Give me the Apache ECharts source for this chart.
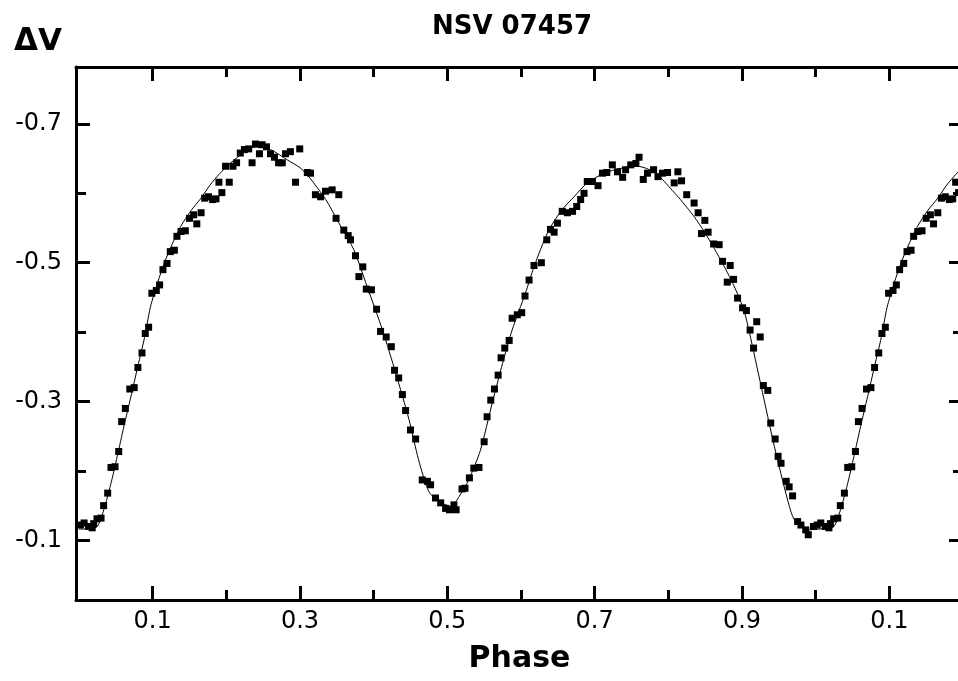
<!DOCTYPE html>
<html><head><meta charset="utf-8">
<script src="https://cdn.jsdelivr.net/npm/echarts/dist/echarts.min.js"></script>
<style>html,body{margin:0;padding:0;background:#fff}#c{width:958px;height:681px}</style>
</head><body><div id="c"></div>
<script>
// ---- observed points (phase, delta V) ----
const obsPhase = [
0.002,0.007,0.013,0.018,0.020,0.0245,0.030,0.0335,0.039,0.0435,
0.049,0.054,0.058,0.063,0.069,0.075,0.080,0.0856,0.090,0.0946,
0.099,0.105,0.1095,0.114,0.1196,0.124,0.1295,0.133,0.1386,0.1444,
0.150,0.1557,0.160,0.1658,0.1707,0.176,0.1815,0.186,0.190,0.194,
0.199,0.204,0.209,0.214,0.219,0.2246,0.2304,0.235,0.2396,0.245,
0.2486,0.2545,0.260,0.2654,0.271,0.276,0.2803,0.287,0.294,0.2997,
0.310,0.3143,0.321,0.328,0.3347,0.3437,0.3527,0.349,0.3595,0.3655,
0.3686,0.3754,0.380,0.3853,0.390,0.397,0.404,0.4094,0.417,0.424,
0.4284,0.434,0.439,0.4434,0.450,0.457,0.466,0.473,0.4773,0.484,
0.491,0.4977,0.503,0.509,0.512,0.520,0.524,0.530,0.536,0.543,
0.550,0.554,0.559,0.564,0.569,0.573,0.578,0.584,0.588,0.595,
0.601,0.6055,0.611,0.6177,0.6277,0.635,0.640,0.645,0.6495,0.656,
0.663,0.670,0.6757,0.681,0.6856,0.690,0.697,0.7046,0.7106,0.7165,
0.724,0.731,0.738,0.742,0.749,0.756,0.7603,0.766,0.7717,0.780,
0.786,0.792,0.799,0.808,0.813,0.818,0.825,0.835,0.8405,0.845,
0.8496,0.854,0.8615,0.869,0.8736,0.880,0.884,0.8886,0.894,0.9008,
0.906,0.911,0.9157,0.920,0.9247,0.929,0.935,0.939,0.945,0.949,
0.953,0.960,0.964,0.9687,0.9755,0.980,0.9865,0.990,0.997
];
const obsDV = [
-0.122,-0.125,-0.120,-0.118,-0.124,-0.131,-0.132,-0.150,-0.168,-0.205,
-0.206,-0.228,-0.271,-0.290,-0.318,-0.320,-0.349,-0.370,-0.398,-0.407,
-0.456,-0.460,-0.468,-0.490,-0.499,-0.516,-0.518,-0.538,-0.545,-0.546,
-0.564,-0.569,-0.556,-0.572,-0.593,-0.595,-0.591,-0.592,-0.616,-0.601,
-0.639,-0.616,-0.639,-0.644,-0.658,-0.663,-0.664,-0.644,-0.671,-0.657,
-0.670,-0.667,-0.657,-0.652,-0.644,-0.644,-0.657,-0.660,-0.616,-0.664,
-0.630,-0.629,-0.598,-0.595,-0.603,-0.605,-0.598,-0.564,-0.547,-0.539,
-0.533,-0.510,-0.480,-0.494,-0.462,-0.461,-0.433,-0.401,-0.393,-0.379,
-0.345,-0.334,-0.310,-0.287,-0.259,-0.246,-0.187,-0.185,-0.180,-0.161,
-0.154,-0.146,-0.144,-0.151,-0.144,-0.174,-0.175,-0.190,-0.204,-0.205,
-0.242,-0.278,-0.302,-0.318,-0.338,-0.363,-0.377,-0.388,-0.420,-0.425,
-0.428,-0.452,-0.475,-0.496,-0.500,-0.533,-0.548,-0.544,-0.557,-0.574,
-0.572,-0.574,-0.581,-0.591,-0.600,-0.617,-0.617,-0.611,-0.629,-0.630,
-0.641,-0.631,-0.623,-0.634,-0.641,-0.643,-0.652,-0.620,-0.629,-0.634,
-0.624,-0.629,-0.630,-0.615,-0.631,-0.618,-0.598,-0.586,-0.572,-0.542,
-0.561,-0.544,-0.527,-0.526,-0.502,-0.472,-0.496,-0.476,-0.449,-0.435,
-0.431,-0.403,-0.377,-0.415,-0.393,-0.323,-0.316,-0.269,-0.246,-0.221,
-0.211,-0.185,-0.177,-0.164,-0.127,-0.122,-0.115,-0.108,-0.120
];

// ---- fitted light curve (phase, delta V) ----
const fitPhase = [
0.000,0.015,0.025,0.034,0.043,0.052,0.061,0.0705,0.080,0.089,
0.097,0.107,0.116,0.125,0.138,0.152,0.165,0.178,0.190,0.200,
0.219,0.240,0.260,0.283,0.300,0.312,0.335,0.353,0.373,0.391,
0.412,0.430,0.448,0.461,0.475,0.489,0.505,0.516,0.529,0.545,
0.561,0.575,0.588,0.606,0.618,0.636,0.654,0.672,0.690,0.713,
0.736,0.758,0.770,0.781,0.792,0.803,0.814,0.825,0.836,0.848,
0.860,0.871,0.883,0.894,0.903,0.910,0.926,0.944,0.962,0.971,
0.989,1.000
];
const fitDV = [
-0.116,-0.117,-0.120,-0.145,-0.180,-0.221,-0.264,-0.307,-0.351,-0.392,
-0.436,-0.472,-0.500,-0.523,-0.552,-0.575,-0.592,-0.612,-0.627,-0.638,
-0.655,-0.667,-0.663,-0.648,-0.637,-0.624,-0.591,-0.557,-0.519,-0.466,
-0.403,-0.341,-0.274,-0.216,-0.170,-0.156,-0.149,-0.163,-0.187,-0.230,
-0.298,-0.355,-0.403,-0.456,-0.495,-0.543,-0.574,-0.595,-0.615,-0.629,
-0.636,-0.639,-0.636,-0.630,-0.620,-0.607,-0.594,-0.580,-0.565,-0.546,
-0.525,-0.504,-0.480,-0.455,-0.430,-0.400,-0.322,-0.235,-0.158,-0.130,
-0.115,-0.116
];

// ---- axes ----
const xRange = [-0.004, 1.2];
const yRange = [-0.782, -0.014];
const repeatUpTo = 0.22;            // phases re-plotted after 1.0
const xMajorTicks = [0.1, 0.3, 0.5, 0.7, 0.9, 1.1];
const xMajorLabels = ['0.1', '0.3', '0.5', '0.7', '0.9', '0.1'];
const xMinorTicks = [0.2, 0.4, 0.6, 0.8, 1.0];
const yMajorTicks = [-0.7, -0.5, -0.3, -0.1];
const yMajorLabels = ['-0.7', '-0.5', '-0.3', '-0.1'];
const yMinorTicks = [-0.6, -0.4, -0.2];

const chartTitle = 'NSV 07457';
const yTitle = '\u0394V';
const xTitle = 'Phase';

// build series data (phase folded plot, repeated past 1.0)
const obsData = obsPhase.map((p, i) => [p, obsDV[i]]);
obsPhase.forEach((p, i) => { if (p < repeatUpTo) obsData.push([p + 1, obsDV[i]]); });
const fitData = fitPhase.map((p, i) => [p, fitDV[i]]);
fitPhase.forEach((p, i) => { if (p > 0 && p <= repeatUpTo) fitData.push([p + 1, fitDV[i]]); });

function lookup(vals, labels, v) {
  let best = 0;
  vals.forEach((t, i) => { if (Math.abs(t - v) < Math.abs(vals[best] - v)) best = i; });
  return labels[best];
}

const black = '#000';
const tickFont = { fontFamily: 'DejaVu Sans', fontSize: 24, color: black };
const gridRect = { left: 76, right: -5, top: 67, bottom: 81, outerBoundsMode: 'none', containLabel: false };

function xAx(grid, pos, ticks, len, line, labels) {
  const a = {
    type: 'value', gridIndex: grid, position: pos, min: xRange[0], max: xRange[1],
    axisLine: { show: line, onZero: false, lineStyle: { color: black, width: 3 } },
    axisTick: { show: true, inside: true, length: len, customValues: ticks, lineStyle: { color: black, width: 3 } },
    axisLabel: { show: false },
    splitLine: { show: false }
  };
  if (labels) {
    a.axisLabel = Object.assign({ show: true, margin: 10, customValues: ticks,
      formatter: v => lookup(xMajorTicks, xMajorLabels, v) }, tickFont);
    a.name = xTitle; a.nameLocation = 'middle'; a.nameGap = 44;
    a.nameTextStyle = { fontFamily: 'DejaVu Sans', fontWeight: 'bold', fontSize: 30, color: black };
  }
  return a;
}
function yAx(grid, pos, ticks, len, line, labels) {
  const a = {
    type: 'value', gridIndex: grid, position: pos, inverse: true, min: yRange[0], max: yRange[1],
    axisLine: { show: line, onZero: false, lineStyle: { color: black, width: 3 } },
    axisTick: { show: true, inside: true, length: len, customValues: ticks, lineStyle: { color: black, width: 3 } },
    axisLabel: { show: false },
    splitLine: { show: false }
  };
  if (labels) {
    a.axisLabel = Object.assign({ show: true, margin: 14, customValues: ticks,
      formatter: v => lookup(yMajorTicks, yMajorLabels, v) }, tickFont);
  }
  return a;
}

const chart = echarts.init(document.getElementById('c'), null, { renderer: 'canvas' });
chart.setOption({
  animation: false,
  backgroundColor: '#fff',
  grid: [Object.assign({}, gridRect), Object.assign({}, gridRect)],
  xAxis: [
    xAx(0, 'bottom', xMajorTicks, 14, true, true),
    xAx(0, 'top', xMajorTicks, 14, true, false),
    xAx(1, 'bottom', xMinorTicks, 10, false, false),
    xAx(1, 'top', xMinorTicks, 10, false, false)
  ],
  yAxis: [
    yAx(0, 'left', yMajorTicks, 14, true, true),
    yAx(0, 'right', yMajorTicks, 14, true, false),
    yAx(1, 'left', yMinorTicks, 10, false, false),
    yAx(1, 'right', yMinorTicks, 10, false, false)
  ],
  graphic: [
    { type: 'text', x: 512, y: 14, style: { text: chartTitle, textAlign: 'center', textVerticalAlign: 'top',
      font: 'bold 26px "DejaVu Sans"', fill: black } },
    { type: 'text', x: 14, y: 26, style: { text: yTitle, textAlign: 'left', textVerticalAlign: 'top',
      font: 'bold 31px "DejaVu Sans"', fill: black } }
  ],
  series: [
    { type: 'line', xAxisIndex: 0, yAxisIndex: 0, data: fitData, showSymbol: false, smooth: 0.25,
      lineStyle: { color: black, width: 1 }, silent: true, z: 2 },
    { type: 'scatter', xAxisIndex: 0, yAxisIndex: 0, data: obsData, symbol: 'rect', symbolSize: 7,
      itemStyle: { color: black, opacity: 1 }, silent: true, z: 3 }
  ]
});
</script>
</body></html>
